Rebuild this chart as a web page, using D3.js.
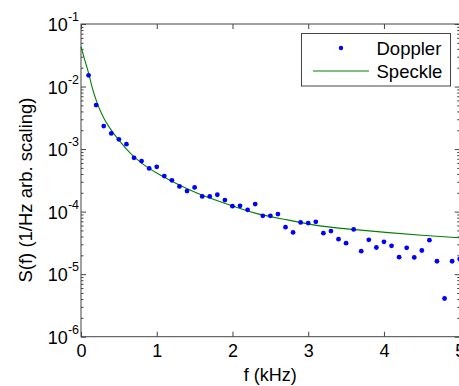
<!DOCTYPE html>
<html>
<head>
<meta charset="utf-8">
<script src="https://cdn.jsdelivr.net/npm/d3@7"></script>
<style>
  body { margin: 0; background: #fff; }
  text { font-family: "Liberation Sans", Arial, sans-serif; fill: #000; }
</style>
</head>
<body>
<script>
// Doppler spectrum points, f in kHz
const dopplerF = [0.1,0.2,0.3,0.4,0.5,0.6,0.7,0.8,0.9,1.0,
  1.1,1.2,1.3,1.4,1.5,1.6,1.7,1.8,1.9,2.0,
  2.1,2.2,2.3,2.4,2.5,2.6,2.7,2.8,2.9,3.0,
  3.1,3.2,3.3,3.4,3.5,3.6,3.7,3.8,3.9,4.0,
  4.1,4.2,4.3,4.4,4.5,4.6,4.7,4.8,4.9,5.0];
const dopplerS = [1.51e-2,5.06e-3,2.33e-3,1.78e-3,1.43e-3,1.20e-3,7.26e-4,6.43e-4,4.91e-4,5.21e-4,
  3.70e-4,3.16e-4,2.53e-4,2.13e-4,2.44e-4,1.75e-4,1.75e-4,1.86e-4,1.53e-4,1.22e-4,
  1.24e-4,1.07e-4,1.32e-4,8.57e-5,8.57e-5,9.12e-5,5.65e-5,4.65e-5,6.72e-5,6.55e-5,
  6.87e-5,4.53e-5,4.88e-5,3.63e-5,3.13e-5,5.19e-5,2.33e-5,3.54e-5,2.67e-5,3.29e-5,
  2.84e-5,1.87e-5,2.64e-5,1.85e-5,2.39e-5,3.50e-5,1.61e-5,4.08e-6,1.61e-5,1.74e-5];

// Speckle curve
const speckleF = [0,0.05,0.1,0.15,0.2,0.3,0.4,0.5,0.65,0.8,1.09,1.53,1.97,2.3,2.74,3.18,3.62,4.06,4.5,5.0];
const speckleS = [4.33e-2,2.65e-2,1.64e-2,9.46e-3,6.08e-3,3.13e-3,2.01e-3,1.39e-3,8.63e-4,5.97e-4,
  3.60e-4,1.98e-4,1.27e-4,9.46e-5,7.31e-5,5.86e-5,5.15e-5,4.61e-5,4.18e-5,3.81e-5];

const xTicks = [0,1,2,3,4,5];
const yExps = [-6,-5,-4,-3,-2,-1];

const W = 459, H = 386;
const pL = 81, pR = 459.7, pT = 24, pB = 336.7;
const axisCol = "#444";

const svg = d3.select("body").append("svg")
  .attr("width", W).attr("height", H);

const x = d3.scaleLinear().domain([0, 5]).range([pL, pR]);
const y = d3.scaleLog().domain([1e-6, 1e-1]).range([pB, pT]);

// minor ticks on log axis
const minor = [];
yExps.slice(0, -1).forEach(e => {
  for (let k = 2; k <= 9; k++) minor.push(k * Math.pow(10, e));
});
const major = yExps.map(e => Math.pow(10, e));

function styleAxis(g) {
  g.select(".domain").remove();
  g.selectAll("line").attr("stroke", axisCol);
}

// x ticks bottom + top (inward)
svg.append("g").attr("transform", `translate(0,${pB})`)
  .call(d3.axisBottom(x).tickValues(xTicks).tickSize(-5).tickPadding(8).tickFormat(d3.format("d")))
  .call(styleAxis)
  .selectAll("text").attr("font-size", 18).attr("fill", "#000")
  .attr("font-family", "Liberation Sans, Arial, sans-serif");
svg.append("g").attr("transform", `translate(0,${pT})`)
  .call(d3.axisTop(x).tickValues(xTicks).tickSize(-5).tickFormat(""))
  .call(styleAxis);

// y ticks left + right
svg.append("g").attr("transform", `translate(${pL},0)`)
  .call(d3.axisLeft(y).tickValues(major).tickSize(-5).tickFormat(""))
  .call(styleAxis);
svg.append("g").attr("transform", `translate(${pL},0)`)
  .call(d3.axisLeft(y).tickValues(minor).tickSize(-2.5).tickFormat(""))
  .call(styleAxis);
svg.append("g").attr("transform", `translate(${pR},0)`)
  .call(d3.axisRight(y).tickValues(major).tickSize(-5).tickFormat(""))
  .call(styleAxis);
svg.append("g").attr("transform", `translate(${pR},0)`)
  .call(d3.axisRight(y).tickValues(minor).tickSize(-2.5).tickFormat(""))
  .call(styleAxis);

// y tick labels 10^n
const ylab = svg.append("g").selectAll("text")
  .data(yExps)
  .enter()
  .append("text")
  .attr("x", 79)
  .attr("y", d => y(Math.pow(10, d)) + 7)
  .attr("text-anchor", "end")
  .attr("font-size", 18);
ylab.append("tspan").text("10");
ylab.append("tspan").attr("font-size", 12.5).attr("dy", -10).text(d => d);

// box
svg.append("rect")
  .attr("x", pL).attr("y", pT)
  .attr("width", pR - pL).attr("height", pB - pT)
  .attr("fill", "none").attr("stroke", axisCol).attr("stroke-width", 1);

// speckle line
const line = d3.line()
  .x((d, i) => x(speckleF[i]))
  .y(d => y(d))
  .curve(d3.curveMonotoneX);
svg.append("path")
  .datum(speckleS)
  .attr("d", line)
  .attr("fill", "none")
  .attr("stroke", "#008000")
  .attr("stroke-width", 1.1);

// doppler dots
svg.append("g").selectAll("circle")
  .data(dopplerS)
  .enter()
  .append("circle")
  .attr("cx", (d, i) => x(dopplerF[i]))
  .attr("cy", d => y(d))
  .attr("r", 2.4)
  .attr("fill", "#0000ff");

// legend
const lg = svg.append("g");
lg.append("rect")
  .attr("x", 301.5).attr("y", 33.5)
  .attr("width", 149).attr("height", 52.5)
  .attr("fill", "#fff").attr("stroke", axisCol);
lg.append("circle").attr("cx", 341).attr("cy", 48).attr("r", 2.2).attr("fill", "#0000ff");
lg.append("line")
  .attr("x1", 313).attr("x2", 369).attr("y1", 71).attr("y2", 71)
  .attr("stroke", "#008000").attr("stroke-width", 1.1);
lg.append("text").attr("x", 376.5).attr("y", 55).attr("font-size", 18.5).text("Doppler");
lg.append("text").attr("x", 376.5).attr("y", 77.5).attr("font-size", 18.5).text("Speckle");

// axis titles
svg.append("text")
  .attr("x", (pL + pR) / 2).attr("y", 381)
  .attr("text-anchor", "middle").attr("font-size", 18)
  .text("f (kHz)");
svg.append("text")
  .attr("transform", "translate(32,190) rotate(-90)")
  .attr("text-anchor", "middle").attr("font-size", 18.5)
  .text("S(f) (1/Hz arb. scaling)");
</script>
</body>
</html>
